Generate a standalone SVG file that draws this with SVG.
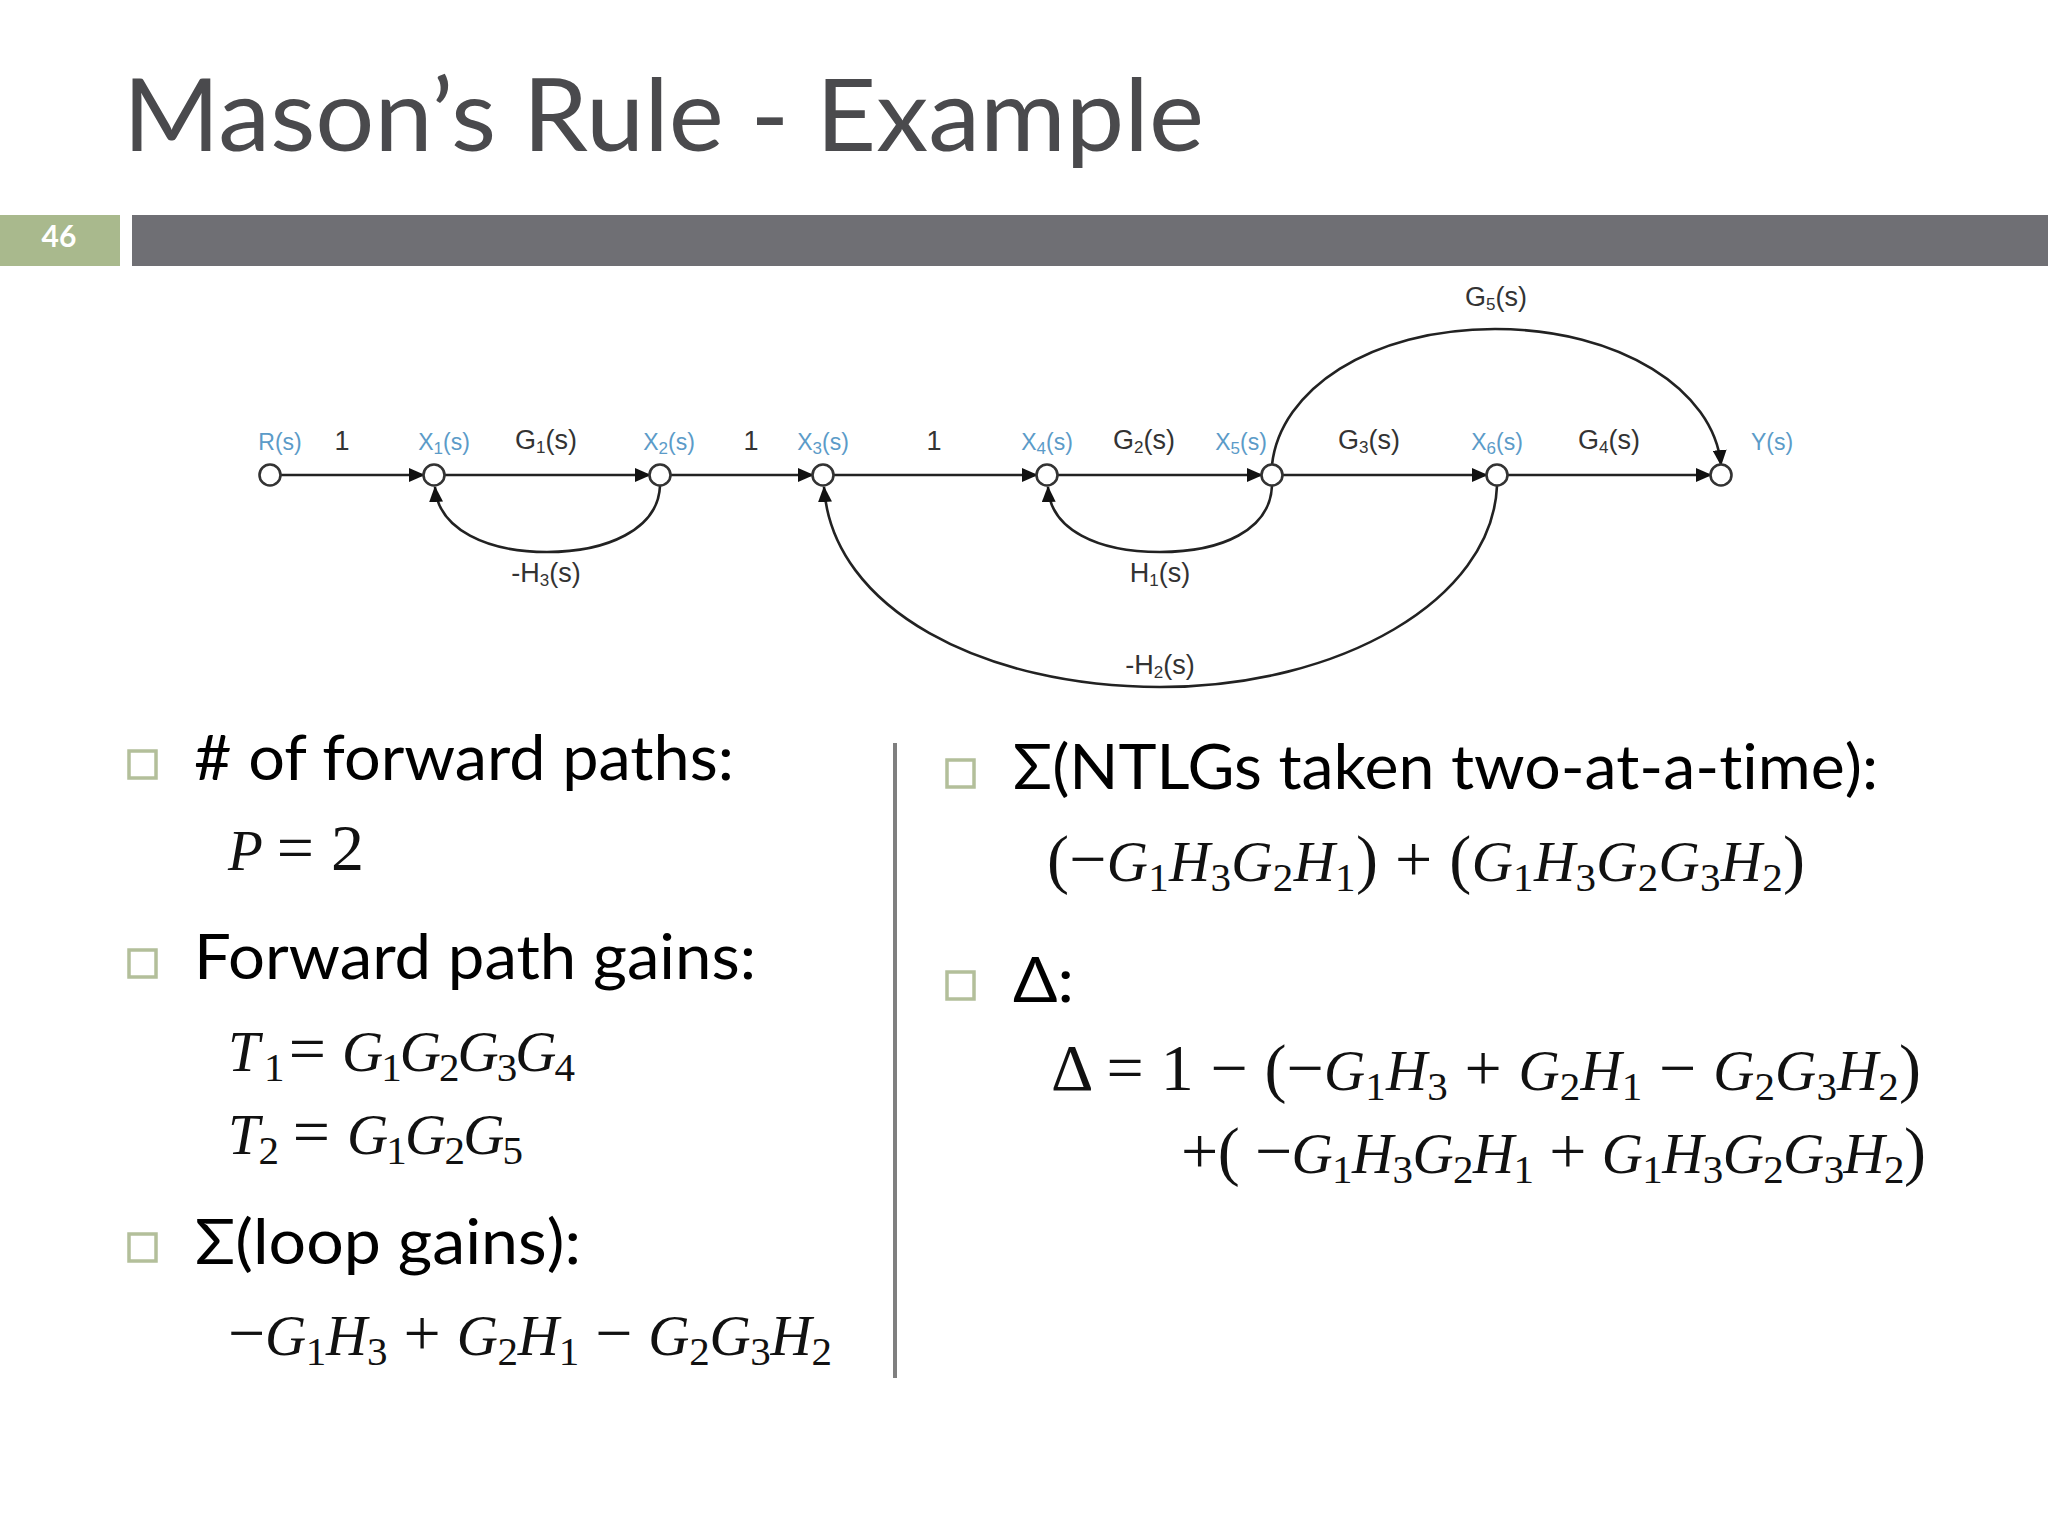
<svg xmlns="http://www.w3.org/2000/svg" width="2048" height="1536" viewBox="0 0 2048 1536">
<style>
.t{font-family:"Lato","Noto Sans",sans-serif;fill:#000;font-size:62px;font-variant-ligatures:none}
.title{font-family:"Lato","Noto Sans",sans-serif;fill:#4a4a4d;font-size:100px}
.m{font-family:"Liberation Serif",serif;font-style:italic;fill:#111;font-size:57px}
.n{font-style:normal;font-size:66px}
.s{font-size:41px;font-style:normal}
.bl{fill:none;stroke:#b3bf9a;stroke-width:3.5}
.g{font-family:"Liberation Sans",sans-serif;fill:#333;font-size:27px;text-anchor:middle}
.b{font-family:"Liberation Sans",sans-serif;fill:#5b9bc8;font-size:23px;text-anchor:middle}
.u{font-size:17px}
.c{fill:none;stroke:#222;stroke-width:2.6}
.nd{fill:#fff;stroke:#333;stroke-width:2.6}
</style>
<defs>
<marker id="a" markerWidth="16" markerHeight="14" refX="15" refY="7" orient="auto" markerUnits="userSpaceOnUse"><path d="M0 0L16 7L0 14Z" fill="#111"/></marker>
</defs>
<rect width="2048" height="1536" fill="#fff"/>
<text class="title" x="123" y="151" textLength="1081" lengthAdjust="spacingAndGlyphs">Mason’s Rule - Example</text>
<rect x="0" y="215" width="120" height="51" fill="#a9b98d"/>
<rect x="132" y="215" width="1916" height="51" fill="#6f6f74"/>
<text x="59" y="247" text-anchor="middle" font-family="Lato,sans-serif" font-weight="700" font-size="30" fill="#fff">46</text>
<g id="connectors">
<path class="c" marker-end="url(#a)" d="M280 475H424"/>
<path class="c" marker-end="url(#a)" d="M444 475H650"/>
<path class="c" marker-end="url(#a)" d="M670 475H813"/>
<path class="c" marker-end="url(#a)" d="M833 475H1037"/>
<path class="c" marker-end="url(#a)" d="M1057 475H1262"/>
<path class="c" marker-end="url(#a)" d="M1282 475H1487"/>
<path class="c" marker-end="url(#a)" d="M1507 475H1711"/>
<path class="c" marker-end="url(#a)" d="M660 486C658 530 606 552 547 552C488 552 438 530 435 487"/>
<path class="c" marker-end="url(#a)" d="M1272 486C1270 530 1222 552 1160 552C1098 552 1050 530 1048 487"/>
<path class="c" marker-end="url(#a)" d="M1497 486C1492 600 1340 687 1160 687C985 687 832 610 824 487"/>
<path class="c" marker-end="url(#a)" d="M1272 465C1280 390 1370 329 1495 329C1620 329 1714 390 1721 465"/>
</g>
<g id="R"><circle class="nd" cx="270" cy="475" r="10.5"/><text class="b" x="280" y="450">R(s)</text></g>
<g id="X1"><circle class="nd" cx="434" cy="475" r="10.5"/><text class="b" x="444" y="450">X<tspan class="u" dy="4">1</tspan><tspan dy="-4">(s)</tspan></text></g>
<g id="X2"><circle class="nd" cx="660" cy="475" r="10.5"/><text class="b" x="669" y="450">X<tspan class="u" dy="4">2</tspan><tspan dy="-4">(s)</tspan></text></g>
<g id="X3"><circle class="nd" cx="823" cy="475" r="10.5"/><text class="b" x="823" y="450">X<tspan class="u" dy="4">3</tspan><tspan dy="-4">(s)</tspan></text></g>
<g id="X4"><circle class="nd" cx="1047" cy="475" r="10.5"/><text class="b" x="1047" y="450">X<tspan class="u" dy="4">4</tspan><tspan dy="-4">(s)</tspan></text></g>
<g id="X5"><circle class="nd" cx="1272" cy="475" r="10.5"/><text class="b" x="1241" y="450">X<tspan class="u" dy="4">5</tspan><tspan dy="-4">(s)</tspan></text></g>
<g id="X6"><circle class="nd" cx="1497" cy="475" r="10.5"/><text class="b" x="1497" y="450">X<tspan class="u" dy="4">6</tspan><tspan dy="-4">(s)</tspan></text></g>
<g id="Y"><circle class="nd" cx="1721" cy="475" r="10.5"/><text class="b" x="1772" y="450">Y(s)</text></g>
<g id="labels">
<text class="g" x="342" y="450">1</text>
<text class="g" x="751" y="450">1</text>
<text class="g" x="934" y="450">1</text>
<text class="g" x="546" y="449">G<tspan class="u" dy="4">1</tspan><tspan dy="-4">(s)</tspan></text>
<text class="g" x="1144" y="449">G<tspan class="u" dy="4">2</tspan><tspan dy="-4">(s)</tspan></text>
<text class="g" x="1369" y="449">G<tspan class="u" dy="4">3</tspan><tspan dy="-4">(s)</tspan></text>
<text class="g" x="1609" y="449">G<tspan class="u" dy="4">4</tspan><tspan dy="-4">(s)</tspan></text>
<text class="g" x="1496" y="306">G<tspan class="u" dy="4">5</tspan><tspan dy="-4">(s)</tspan></text>
<text class="g" x="546" y="582">-H<tspan class="u" dy="4">3</tspan><tspan dy="-4">(s)</tspan></text>
<text class="g" x="1160" y="582">H<tspan class="u" dy="4">1</tspan><tspan dy="-4">(s)</tspan></text>
<text class="g" x="1160" y="674">-H<tspan class="u" dy="4">2</tspan><tspan dy="-4">(s)</tspan></text>
</g>
<rect x="893" y="743" width="4" height="635" fill="#7f7f7f"/>
<g id="bullets">
<rect class="bl" x="129" y="751" width="27" height="27"/>
<rect class="bl" x="129" y="950" width="27" height="27"/>
<rect class="bl" x="129" y="1234" width="27" height="27"/>
<rect class="bl" x="947" y="760" width="27" height="27"/>
<rect class="bl" x="947" y="972" width="27" height="27"/>
</g>
<text class="t" x="194" y="780" textLength="540" lengthAdjust="spacingAndGlyphs"># of forward paths:</text>
<text class="t" x="194" y="979" textLength="562" lengthAdjust="spacingAndGlyphs">Forward path gains:</text>
<text class="t" x="195" y="1264" textLength="386" lengthAdjust="spacingAndGlyphs">Σ(loop gains):</text>
<text class="t" x="1013" y="789" textLength="865" lengthAdjust="spacingAndGlyphs">Σ(NTLGs taken two-at-a-time):</text>
<text class="t" x="1013" y="1002" textLength="61" lengthAdjust="spacingAndGlyphs">Δ:</text>
<text class="m" x="228" y="870" textLength="136" lengthAdjust="spacing">P <tspan class="n">= 2</tspan></text>
<text class="m" x="228" y="1071" textLength="98" lengthAdjust="spacing">T<tspan class="s" dy="10">1</tspan><tspan class="n" dy="-10">=</tspan></text>
<text class="m" x="342" y="1071" textLength="233" lengthAdjust="spacing">G<tspan class="s" dy="10">1</tspan><tspan dy="-10">G</tspan><tspan class="s" dy="10">2</tspan><tspan dy="-10">G</tspan><tspan class="s" dy="10">3</tspan><tspan dy="-10">G</tspan><tspan class="s" dy="10">4</tspan></text>
<text class="m" x="228" y="1154" textLength="102" lengthAdjust="spacing">T<tspan class="s" dy="10">2</tspan><tspan class="n" dy="-10"> =</tspan></text>
<text class="m" x="347" y="1154" textLength="176" lengthAdjust="spacing">G<tspan class="s" dy="10">1</tspan><tspan dy="-10">G</tspan><tspan class="s" dy="10">2</tspan><tspan dy="-10">G</tspan><tspan class="s" dy="10">5</tspan></text>
<text class="m" x="228" y="1355" textLength="604" lengthAdjust="spacing"><tspan class="n">−</tspan>G<tspan class="s" dy="10">1</tspan><tspan dy="-10">H</tspan><tspan class="s" dy="10">3</tspan><tspan class="n" dy="-10"> + </tspan>G<tspan class="s" dy="10">2</tspan><tspan dy="-10">H</tspan><tspan class="s" dy="10">1</tspan><tspan class="n" dy="-10"> − </tspan>G<tspan class="s" dy="10">2</tspan><tspan dy="-10">G</tspan><tspan class="s" dy="10">3</tspan><tspan dy="-10">H</tspan><tspan class="s" dy="10">2</tspan></text>
<text class="m" x="1047" y="881" textLength="758" lengthAdjust="spacing"><tspan class="n">(−</tspan>G<tspan class="s" dy="10">1</tspan><tspan dy="-10">H</tspan><tspan class="s" dy="10">3</tspan><tspan dy="-10">G</tspan><tspan class="s" dy="10">2</tspan><tspan dy="-10">H</tspan><tspan class="s" dy="10">1</tspan><tspan class="n" dy="-10">) + (</tspan>G<tspan class="s" dy="10">1</tspan><tspan dy="-10">H</tspan><tspan class="s" dy="10">3</tspan><tspan dy="-10">G</tspan><tspan class="s" dy="10">2</tspan><tspan dy="-10">G</tspan><tspan class="s" dy="10">3</tspan><tspan dy="-10">H</tspan><tspan class="s" dy="10">2</tspan><tspan class="n" dy="-10">)</tspan></text>
<text class="m" x="1051" y="1090" textLength="870" lengthAdjust="spacing"><tspan class="n">Δ = 1 −  (−</tspan>G<tspan class="s" dy="10">1</tspan><tspan dy="-10">H</tspan><tspan class="s" dy="10">3</tspan><tspan class="n" dy="-10"> + </tspan>G<tspan class="s" dy="10">2</tspan><tspan dy="-10">H</tspan><tspan class="s" dy="10">1</tspan><tspan class="n" dy="-10"> − </tspan>G<tspan class="s" dy="10">2</tspan><tspan dy="-10">G</tspan><tspan class="s" dy="10">3</tspan><tspan dy="-10">H</tspan><tspan class="s" dy="10">2</tspan><tspan class="n" dy="-10">)</tspan></text>
<text class="m" x="1181" y="1173" textLength="745" lengthAdjust="spacing"><tspan class="n">+( −</tspan>G<tspan class="s" dy="10">1</tspan><tspan dy="-10">H</tspan><tspan class="s" dy="10">3</tspan><tspan dy="-10">G</tspan><tspan class="s" dy="10">2</tspan><tspan dy="-10">H</tspan><tspan class="s" dy="10">1</tspan><tspan class="n" dy="-10"> + </tspan>G<tspan class="s" dy="10">1</tspan><tspan dy="-10">H</tspan><tspan class="s" dy="10">3</tspan><tspan dy="-10">G</tspan><tspan class="s" dy="10">2</tspan><tspan dy="-10">G</tspan><tspan class="s" dy="10">3</tspan><tspan dy="-10">H</tspan><tspan class="s" dy="10">2</tspan><tspan class="n" dy="-10">)</tspan></text>
</svg>
